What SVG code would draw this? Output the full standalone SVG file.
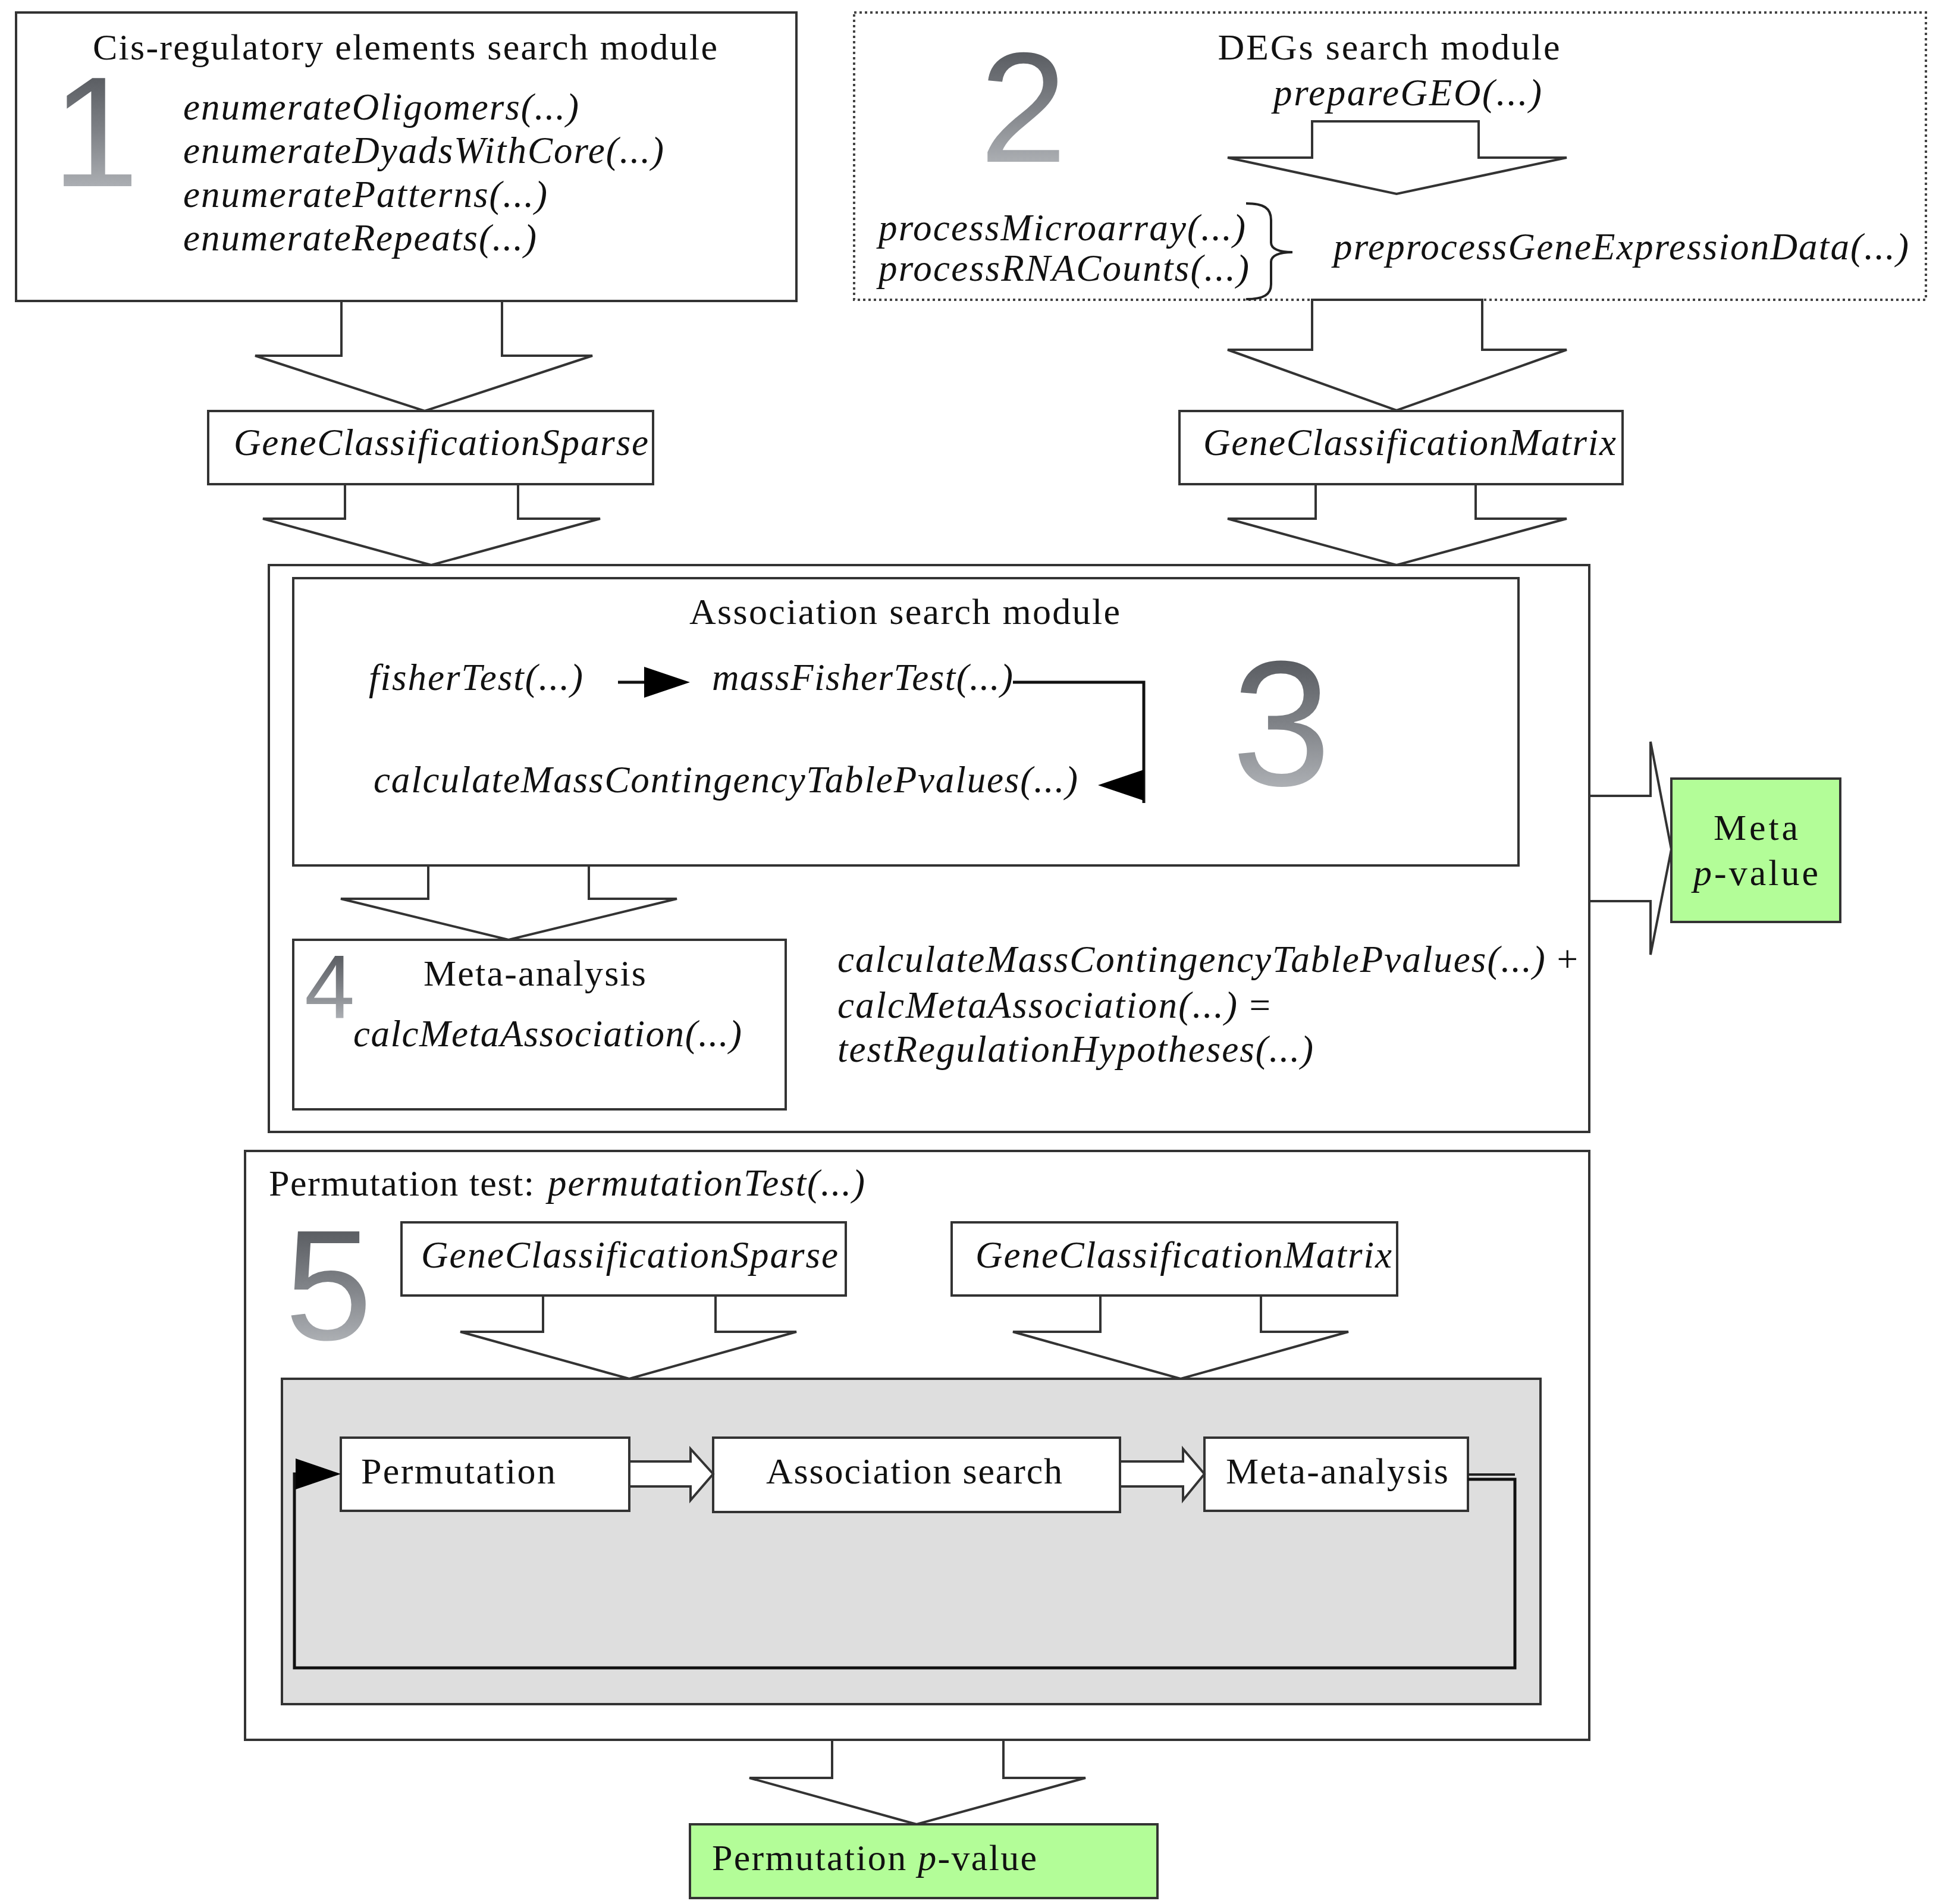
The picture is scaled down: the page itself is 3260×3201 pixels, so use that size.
<svg xmlns="http://www.w3.org/2000/svg" width="3260" height="3201" viewBox="0 0 3260 3201">
<style>
.bg{fill:#ffffff}
.box{fill:#ffffff;stroke:#333333;stroke-width:4}
.dotbox{fill:#ffffff;stroke:#444444;stroke-width:4;stroke-dasharray:4 5}
.gray{fill:#dedede;stroke:#333333;stroke-width:4}
.green{fill:#b3fd98;stroke:#333333;stroke-width:4}
.barrow{fill:#ffffff;stroke:#333333;stroke-width:4;stroke-linejoin:miter}
.line{fill:none;stroke:#111111;stroke-width:5}
.thin{fill:none;stroke:#222222;stroke-width:4}
.head{fill:#000000;stroke:none}
.t{font-family:"Liberation Serif","Times New Roman",serif;font-size:62px;fill:#111111}
.f{font-family:"Liberation Serif","Times New Roman",serif;font-size:63px;font-style:italic;fill:#111111}
.up{font-style:normal}
.num{font-family:"Liberation Sans",Arial,sans-serif;fill:url(#dg)}
</style>
<defs>
<linearGradient id="dg" x1="0" y1="0" x2="0" y2="1">
<stop offset="0" stop-color="#44474c"/>
<stop offset="0.5" stop-color="#7f8287"/>
<stop offset="1" stop-color="#c6c9cd"/>
</linearGradient>
</defs>
<rect class="bg" x="0" y="0" width="3260" height="3201"/>

<g id="module1">
<rect class="box" x="27" y="21" width="1312" height="485"/>
<text class="t" x="681" y="100" text-anchor="middle" textLength="1050" lengthAdjust="spacing">Cis-regulatory elements search module</text>
<text class="num" x="87" y="313" font-size="264">1</text>
<text class="f" x="308" y="201" textLength="665" lengthAdjust="spacing">enumerateOligomers(...)</text>
<text class="f" x="308" y="274" textLength="808" lengthAdjust="spacing">enumerateDyadsWithCore(...)</text>
<text class="f" x="308" y="348" textLength="612" lengthAdjust="spacing">enumeratePatterns(...)</text>
<text class="f" x="308" y="421" textLength="594" lengthAdjust="spacing">enumerateRepeats(...)</text>
</g>

<g id="module2">
<rect class="dotbox" x="1436" y="21" width="1802" height="483"/>
<text class="t" x="2335" y="100" text-anchor="middle" textLength="575" lengthAdjust="spacing">DEGs search module</text>
<text class="num" x="1647" y="272" font-size="264">2</text>
<text class="f" x="2141" y="177" textLength="451" lengthAdjust="spacing">prepareGEO(...)</text>
<text class="f" x="1477" y="404" textLength="617" lengthAdjust="spacing">processMicroarray(...)</text>
<text class="f" x="1477" y="472" textLength="623" lengthAdjust="spacing">processRNACounts(...)</text>
<path class="thin" d="M2095,342 C2125,342 2137,350 2137,370 L2137,408 C2137,418 2150,424 2173,424 C2150,424 2137,430 2137,440 L2137,478 C2137,495 2125,503 2095,503"/>
<text class="f" x="2242" y="436" textLength="967" lengthAdjust="spacing">preprocessGeneExpressionData(...)</text>
</g>

<g id="gcs1">
<rect class="box" x="350" y="691" width="748" height="123"/>
<text class="f" x="393" y="765" textLength="697" lengthAdjust="spacing">GeneClassificationSparse</text>
</g>

<g id="gcm1">
<rect class="box" x="1983" y="691" width="745" height="123"/>
<text class="f" x="2023" y="765" textLength="694" lengthAdjust="spacing">GeneClassificationMatrix</text>
</g>

<g id="module3-outer">
<rect class="box" x="452" y="950" width="2220" height="953"/>
</g>

<g id="association-module">
<rect class="box" x="493" y="972" width="2060" height="483"/>
<text class="t" x="1521" y="1049" text-anchor="middle" textLength="724" lengthAdjust="spacing">Association search module</text>
<text class="f" x="620" y="1160" textLength="360" lengthAdjust="spacing">fisherTest(...)</text>
<text class="f" x="1197" y="1160" textLength="506" lengthAdjust="spacing">massFisherTest(...)</text>
<text class="f" x="628" y="1332" textLength="1184" lengthAdjust="spacing">calculateMassContingencyTablePvalues(...)</text>
<text class="num" x="2071" y="1320" font-size="300">3</text>
</g>

<g id="meta-analysis">
<rect class="box" x="493" y="1580" width="828" height="285"/>
<text class="num" x="512" y="1712" font-size="152">4</text>
<text class="t" x="712" y="1657" textLength="374" lengthAdjust="spacing">Meta-analysis</text>
<text class="f" x="594" y="1759" textLength="653" lengthAdjust="spacing">calcMetaAssociation(...)</text>
</g>

<g id="combined-text">
<text class="f" x="1408" y="1634" textLength="1245" lengthAdjust="spacing">calculateMassContingencyTablePvalues(...)<tspan class="up"> +</tspan></text>
<text class="f" x="1408" y="1711" textLength="728" lengthAdjust="spacing">calcMetaAssociation(...)<tspan class="up"> =</tspan></text>
<text class="f" x="1408" y="1785" textLength="800" lengthAdjust="spacing">testRegulationHypotheses(...)</text>
</g>

<g id="meta-pvalue">
<rect class="green" x="2810" y="1309" width="284" height="241"/>
<text class="t" x="2952" y="1412" text-anchor="middle" font-size="66" textLength="142" lengthAdjust="spacing">Meta</text>
<text class="t" x="2952" y="1488" text-anchor="middle" font-size="66" textLength="210" lengthAdjust="spacing"><tspan font-style="italic">p</tspan>-value</text>
</g>

<g id="permutation-test">
<rect class="box" x="412" y="1935" width="2260" height="990"/>
<text class="t" x="452" y="2010" textLength="446" lengthAdjust="spacing">Permutation test:</text>
<text class="f" x="921" y="2010" textLength="533" lengthAdjust="spacing">permutationTest(...)</text>
<text class="num" x="479" y="2252" font-size="264">5</text>
</g>

<g id="gcs2">
<rect class="box" x="675" y="2055" width="747" height="123"/>
<text class="f" x="708" y="2131" textLength="701" lengthAdjust="spacing">GeneClassificationSparse</text>
</g>

<g id="gcm2">
<rect class="box" x="1600" y="2055" width="749" height="123"/>
<text class="f" x="1640" y="2131" textLength="700" lengthAdjust="spacing">GeneClassificationMatrix</text>
</g>

<g id="loop-area">
<rect class="gray" x="474" y="2318" width="2116" height="547"/>
</g>

<g id="permutation">
<rect class="box" x="573" y="2417" width="485" height="123"/>
<text class="t" x="607" y="2494" font-size="66" textLength="327" lengthAdjust="spacing">Permutation</text>
</g>

<g id="association-search">
<rect class="box" x="1199" y="2417" width="684" height="125"/>
<text class="t" x="1288" y="2494" font-size="66" textLength="498" lengthAdjust="spacing">Association search</text>
</g>

<g id="meta-analysis-2">
<rect class="box" x="2025" y="2417" width="443" height="123"/>
<text class="t" x="2061" y="2494" font-size="66" textLength="374" lengthAdjust="spacing">Meta-analysis</text>
</g>

<g id="permutation-pvalue">
<rect class="green" x="1160" y="3067" width="786" height="124"/>
<text class="t" x="1197" y="3144" font-size="66" textLength="546" lengthAdjust="spacing">Permutation <tspan font-style="italic">p</tspan>-value</text>
</g>

<g id="connectors">
<polygon class="barrow" points="2206,204 2486,204 2486,265 2634,265 2348,326 2064,265 2206,265"/>
<polygon class="barrow" points="574,506 844,506 844,598 996,598 714,691 429,598 574,598"/>
<polygon class="barrow" points="2206,504 2492,504 2492,588 2634,588 2348,690 2064,588 2206,588"/>
<polygon class="barrow" points="580,814 871,814 871,872 1009,872 725,950 442,872 580,872"/>
<polygon class="barrow" points="2212,814 2481,814 2481,872 2634,872 2348,950 2064,872 2212,872"/>
<polygon class="barrow" points="720,1455 990,1455 990,1511 1138,1511 855,1580 573,1511 720,1511"/>
<polygon class="barrow" points="2672,1338 2775,1338 2775,1247 2810,1428 2775,1605 2775,1515 2672,1515"/>
<polygon class="barrow" points="913,2178 1203,2178 1203,2239 1339,2239 1058,2318 774,2239 913,2239"/>
<polygon class="barrow" points="1850,2178 2120,2178 2120,2239 2267,2239 1985,2318 1703,2239 1850,2239"/>
<polygon class="barrow" points="1399,2925 1687,2925 1687,2989 1825,2989 1541,3067 1260,2989 1399,2989"/>
<polygon class="barrow" points="1058,2457 1161,2457 1161,2436 1199,2478 1161,2522 1161,2499 1058,2499"/>
<polygon class="barrow" points="1883,2457 1989,2457 1989,2436 2025,2478 1989,2522 1989,2499 1883,2499"/>
<line class="line" x1="1039" y1="1147" x2="1090" y2="1147"/>
<polygon class="head" points="1083,1121 1160,1147 1083,1173"/>
<path class="line" d="M1703,1147 H1923 V1350"/>
<polygon class="head" points="1923,1294 1846,1320 1923,1346"/>
<path class="thin" d="M2468,2479 H2547"/>
<path class="line" d="M2468,2487 H2547 V2804 H495 V2478 H505"/>
<polygon class="head" points="497,2452 573,2478 497,2504"/>
</g>
</svg>
